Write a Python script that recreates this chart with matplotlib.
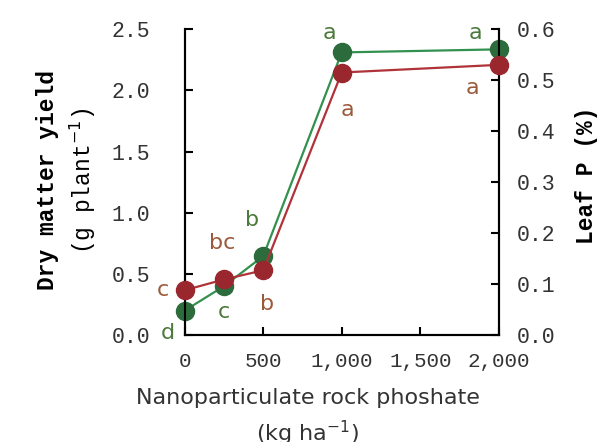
import matplotlib
matplotlib.use("Agg")
import matplotlib.pyplot as plt

# Nanoparticulate rock phosphate rate (kg/ha)
rate = [0, 250, 500, 1000, 2000]
# dry matter yield (g/plant), green series, left axis
dry_yield = [0.20, 0.40, 0.645, 2.31, 2.335]
dry_letters = ['d', 'c', 'b', 'a', 'a']
# leaf P (%), red series, right axis
leaf_p = [0.088, 0.109, 0.127, 0.515, 0.530]
leaf_letters = ['c', 'bc', 'b', 'a', 'a']

yl_ticks = [0.0, 0.5, 1.0, 1.5, 2.0, 2.5]
yr_ticks = [0.0, 0.1, 0.2, 0.3, 0.4, 0.5, 0.6]
x_ticks = [0, 500, 1000, 1500, 2000]
x_ticklabels = ['0', '500', '1,000', '1,500', '2,000']

green_m, green_l, green_t = '#2b6b3c', '#33914f', '#4b7a3c'
red_m, red_l, red_t = '#9a272e', '#b0333a', '#9c5a3a'

mono = 'Liberation Mono'

fig = plt.figure(figsize=(5.98, 4.42), dpi=100)
ax = fig.add_axes([0.309, 0.242, 0.525, 0.692])
ax2 = ax.twinx()

ax.plot(rate, dry_yield, '-o', color=green_l, mfc=green_m, mec=green_m,
        ms=13, lw=1.6, clip_on=False, zorder=3)
ax2.plot(rate, leaf_p, '-o', color=red_l, mfc=red_m, mec=red_m,
         ms=13, lw=1.6, clip_on=False, zorder=3)

# letters (offsets in points)
g_off = [(-12, -16), (0, -19), (-8, 26), (-9, 14), (-17, 12)]
r_off = [(-16, 0), (-1, 26), (3, -24), (4, -27), (-19, -17)]
for x, y, t, o in zip(rate, dry_yield, dry_letters, g_off):
    ax.annotate(t, (x, y), xytext=o, textcoords='offset points',
                ha='center', va='center', color=green_t, fontsize=16,
                annotation_clip=False)
for x, y, t, o in zip(rate, leaf_p, leaf_letters, r_off):
    ax2.annotate(t, (x, y), xytext=o, textcoords='offset points',
                 ha='center', va='center', color=red_t, fontsize=16,
                 annotation_clip=False)

ax.set_xlim(0, 2000)
ax.set_ylim(0, 2.5)
ax2.set_ylim(0, 0.6)
ax.set_xticks(x_ticks)
ax.set_xticklabels(x_ticklabels)
ax.set_yticks(yl_ticks)
ax.set_yticklabels(['%.1f' % v for v in yl_ticks])
ax2.set_yticks(yr_ticks)
ax2.set_yticklabels(['%.1f' % v for v in yr_ticks])

for a in (ax, ax2):
    a.spines['top'].set_visible(False)
    for s in a.spines.values():
        s.set_linewidth(1.5)
    for lab in a.get_yticklabels():
        lab.set_fontfamily(mono)
        lab.set_fontsize(15.5)
        lab.set_color('#333333')
    for lab in a.get_xticklabels():
        lab.set_fontfamily(mono)
        lab.set_fontsize(15)
        lab.set_color('#333333')
ax.tick_params(axis='y', direction='in', length=6, width=1.5, pad=25)
ax.tick_params(axis='x', direction='in', length=6, width=1.5, pad=12)
ax2.tick_params(axis='y', direction='in', length=6, width=1.5, pad=13)

fig.text(48 / 598, 1 - 180 / 442, 'Dry matter yield', rotation=90,
         ha='center', va='center', fontsize=16.5, fontweight='bold',
         family=mono)
fig.text(83 / 598, 1 - 181 / 442, '(g plant$^{-1}$)', rotation=90,
         ha='center', va='center', fontsize=16.5, family=mono)
fig.text(587 / 598, 1 - 175 / 442, 'Leaf P (%)', rotation=90,
         ha='center', va='center', fontsize=16.5, fontweight='bold',
         family=mono)
fig.text(308 / 598, 1 - 398 / 442, 'Nanoparticulate rock phoshate',
         ha='center', va='center', fontsize=16, color='#333333')
fig.text(308 / 598, 1 - 433 / 442, '(kg ha$^{-1}$)',
         ha='center', va='center', fontsize=16, color='#333333')

fig.savefig('out.png', dpi=100)
